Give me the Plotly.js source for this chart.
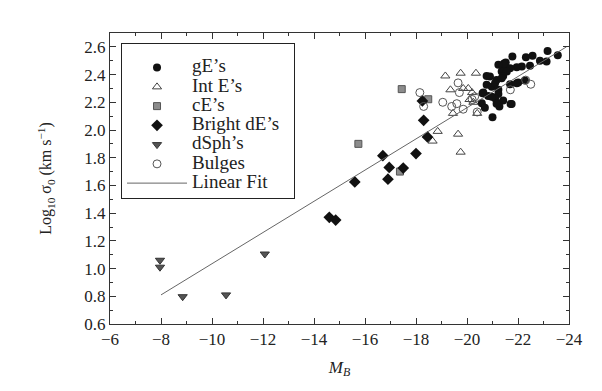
<!DOCTYPE html>
<html>
<head>
<meta charset="utf-8">
<script src="https://cdn.plot.ly/plotly-3.0.1.min.js"></script>
<style>html,body{margin:0;padding:0;background:#fff;}#chart{width:602px;height:391px;}</style>
</head>
<body>
<div id="chart"></div>
<script>
// gE's (filled circles)
const gE_M = [-23.16,-23.56,-22.57,-22.31,-21.78,-22.86,-23.12,-21.52,-22.47,-22.15,-21.95,-21.42,-21.69,-21.36,-21.56,-20.9,-20.77,-21.42,-21.16,-21.36,-20.77,-20.97,-21.1,-21.23,-21.69,-22.01,-22.27,-20.64,-21.23,-20.83,-21.1,-21.42,-20.58,-21.23,-21.71,-21.27,-21.0,-21.45,-21.23,-20.61,-21.75,-21.95,-20.97,-21.16,-20.7];
const gE_S = [2.57,2.54,2.535,2.525,2.53,2.50,2.494,2.487,2.463,2.458,2.453,2.458,2.446,2.422,2.422,2.386,2.39,2.39,2.36,2.374,2.326,2.313,2.338,2.29,2.33,2.342,2.357,2.27,2.26,2.246,2.23,2.212,2.193,2.193,2.188,2.169,2.092,2.48,2.47,2.266,2.188,2.338,2.24,2.19,2.16];
// Int E's (open up-triangles)
const intE_M = [-19.15,-19.75,-20.35,-19.35,-19.85,-20.05,-20.2,-20.25,-19.45,-20.4,-18.85,-18.65,-19.65,-19.75,-20.1];
const intE_S = [2.39,2.41,2.41,2.29,2.30,2.30,2.27,2.20,2.12,2.12,1.99,1.92,1.97,1.84,2.22];
// cE's (grey squares)
const cE_M = [-15.74,-17.37,-17.44,-18.48];
const cE_S = [1.90,1.70,2.295,2.222];
// Bright dE's (filled diamonds)
const dE_M = [-14.6,-14.85,-15.6,-16.7,-16.95,-16.9,-17.5,-18.0,-18.3,-18.45,-18.25];
const dE_S = [1.37,1.35,1.625,1.815,1.73,1.645,1.725,1.83,2.07,1.95,2.21];
// dSph's (filled down-triangles)
const dSph_M = [-7.96,-7.96,-8.85,-10.55,-12.07];
const dSph_S = [1.06,1.01,0.797,0.81,1.105];
// Bulges (open circles)
const bul_M = [-18.15,-18.3,-19.05,-19.65,-19.7,-19.4,-19.6,-19.85,-20.2,-20.3,-20.4,-21.7,-22.3,-22.5];
const bul_S = [2.27,2.17,2.20,2.34,2.27,2.17,2.19,2.15,2.22,2.24,2.13,2.29,2.36,2.33];
// Linear fit
const fit_M = [-8.0,-23.9];
const fit_S = [0.81,2.60];
// legend names
const names = ["gE’s", "Int E’s", "cE’s", "Bright dE’s", "dSph’s", "Bulges", "Linear Fit"];

const serif = 'Liberation Serif, Times New Roman, serif';
const nm = (s, pad) => '<span style="font-size:19px">' + s + (pad ? '&nbsp;&nbsp;' : '') + '</span>';
const traces = [
  {x: gE_M, y: gE_S, name: nm(names[0]), mode: 'markers', type: 'scatter',
   marker: {symbol: 'circle', size: 8, color: '#111', line: {width: 0}}},
  {x: intE_M, y: intE_S, name: nm(names[1]), mode: 'markers', type: 'scatter',
   marker: {symbol: 'triangle-up-open', size: 8, color: '#444', line: {width: 1}}},
  {x: cE_M, y: cE_S, name: nm(names[2]), mode: 'markers', type: 'scatter',
   marker: {symbol: 'square', size: 7, color: '#8c8c8c', line: {width: 1, color: '#555'}}},
  {x: dE_M, y: dE_S, name: nm(names[3], true), mode: 'markers', type: 'scatter',
   marker: {symbol: 'diamond', size: 9, color: '#111', line: {width: 0}}},
  {x: dSph_M, y: dSph_S, name: nm(names[4]), mode: 'markers', type: 'scatter',
   marker: {symbol: 'triangle-down', size: 8, color: '#555', line: {width: 1, color: '#333'}}},
  {x: bul_M, y: bul_S, name: nm(names[5]), mode: 'markers', type: 'scatter',
   marker: {symbol: 'circle-open', size: 8, color: '#555', line: {width: 1}}},
  {x: fit_M, y: fit_S, name: nm(names[6]), mode: 'lines', type: 'scatter',
   line: {color: '#666', width: 1}}
];

const axisCommon = {
  showgrid: false, zeroline: false, showline: true, linecolor: '#333', linewidth: 1,
  mirror: 'ticks', ticks: 'inside', ticklen: 6, tickcolor: '#333', tickwidth: 1,
  tickfont: {family: serif, size: 17, color: '#222'}
};

const layout = {
  width: 602, height: 391,
  margin: {l: 110, r: 33, t: 33, b: 67},
  paper_bgcolor: '#fff', plot_bgcolor: '#fff',
  font: {family: serif, color: '#222'},
  showlegend: true,
  legend: {x: 0.024, y: 0.966, xanchor: 'left', yanchor: 'top',
    bgcolor: '#fff', bordercolor: '#222', borderwidth: 1,
    font: {family: serif, size: 12.5, color: '#222'}, itemwidth: 60,
    title: {text: '&nbsp;', font: {family: serif, size: 7}}},
  xaxis: Object.assign({}, axisCommon, {
    range: [-6, -24], dtick: 2, tick0: -6,
    minor: {dtick: 1, ticks: 'inside', ticklen: 3, tickcolor: '#333'},
    title: {text: '<i>M<sub>B</sub></i>', font: {family: serif, size: 17, color: '#222'}, standoff: 12}
  }),
  yaxis: Object.assign({}, axisCommon, {
    range: [0.6, 2.7], dtick: 0.2, tick0: 0.6, tickformat: '.1f',
    minor: {dtick: 0.1, ticks: 'inside', ticklen: 3, tickcolor: '#333'},
    title: {text: 'Log<sub>10</sub> σ<sub>0</sub> (km s<sup>−1</sup>)', font: {family: serif, size: 16, color: '#222'}, standoff: 28}
  })
};

Plotly.newPlot('chart', traces, layout, {displayModeBar: false, staticPlot: true});
</script>
</body>
</html>
